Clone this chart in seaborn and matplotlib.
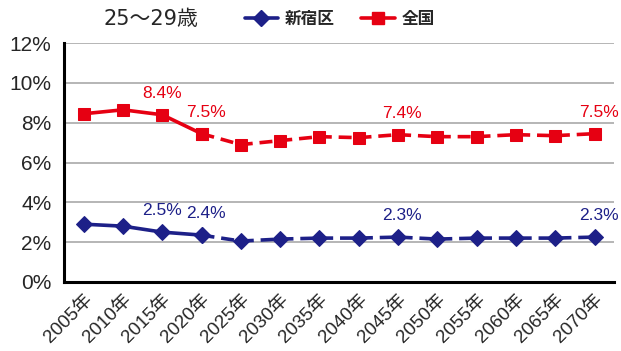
import matplotlib
matplotlib.use("Agg")
import matplotlib.pyplot as plt
from matplotlib.lines import Line2D
import seaborn as sns
import pandas as pd

years = ["2005年", "2010年", "2015年", "2020年", "2025年", "2030年", "2035年",
         "2040年", "2045年", "2050年", "2055年", "2060年", "2065年", "2070年"]
shinjuku = [2.9, 2.8, 2.5, 2.35, 2.05, 2.15, 2.2, 2.2, 2.25, 2.15, 2.2, 2.2, 2.2, 2.25]
national = [8.45, 8.65, 8.4, 7.45, 6.9, 7.1, 7.3, 7.25, 7.4, 7.3, 7.3, 7.4, 7.35, 7.45]
shinjuku_labels = {2: "2.5%", 3: "2.4%", 8: "2.3%", 13: "2.3%"}
national_labels = {2: "8.4%", 3: "7.5%", 8: "7.4%", 13: "7.5%"}
yticks = [0, 2, 4, 6, 8, 10, 12]
age_group = "25～29歳"

sns.set_theme(style="white")
FONTS = ["Liberation Sans", "Noto Sans CJK JP"]
plt.rcParams["font.family"] = FONTS

RED = "#E60012"
NAVY = "#1D2088"
split = 3  # observed up to 2020, projected afterwards

fig = plt.figure(figsize=(6.21, 3.51), dpi=100)
ax = fig.add_axes([0.103, 0.197, 0.886, 0.680])

idx = list(range(len(years)))
for vals, color, marker, ms in [(shinjuku, NAVY, "D", 8), (national, RED, "s", 8)]:
    obs = pd.DataFrame({"x": idx[:split + 1], "y": vals[:split + 1]})
    proj = pd.DataFrame({"x": idx[split:], "y": vals[split:]})
    sns.lineplot(data=proj, x="x", y="y", ax=ax, color=color, lw=2.6,
                 marker=marker, markersize=ms, markeredgecolor=color,
                 dashes=False, linestyle=(0, (3.6, 1.9)))
    sns.lineplot(data=obs, x="x", y="y", ax=ax, color=color, lw=2.6,
                 marker=marker, markersize=ms, markeredgecolor=color)

for labels, vals, color in [(shinjuku_labels, shinjuku, NAVY), (national_labels, national, RED)]:
    for i, txt in labels.items():
        dx = 0 if i == 2 else 3
        ax.annotate(txt, (i, vals[i]), xytext=(dx, 10), textcoords="offset points",
                    ha="center", va="bottom", color=color, fontsize=12.5)

ax.set_xlim(-0.5, len(years) - 0.5)
ax.set_ylim(0, 12)
ax.set_yticks(yticks)
ax.set_yticklabels([f"{v}%" for v in yticks], fontsize=15)
ax.set_xticks(idx)
ax.set_xticklabels(years, rotation=45, ha="right", rotation_mode="anchor", fontsize=13.5)
ax.set_xticks([i - 0.5 for i in range(len(years) + 1)], minor=True)
ax.tick_params(axis="x", which="major", length=0, pad=7)
ax.tick_params(axis="x", which="minor", length=6, width=2, color="black", direction="out")
ax.tick_params(axis="y", length=6, width=2, color="black", direction="out", pad=3)
ax.set_xlabel("")
ax.set_ylabel("")
for y in yticks[1:]:
    ax.axhline(y, color="#b0b0b0", lw=1.3, zorder=0)
for s in ["top", "right"]:
    ax.spines[s].set_visible(False)
for s in ["left", "bottom"]:
    ax.spines[s].set_color("black")
    ax.spines[s].set_linewidth(2.2)

handles = [Line2D([], [], color=NAVY, lw=2.6, marker="D", markersize=8),
           Line2D([], [], color=RED, lw=2.6, marker="s", markersize=8)]
fig.legend(handles, ["新宿区", "全国"], loc="center", bbox_to_anchor=(0.547, 0.945),
           ncol=2, frameon=False, handlelength=2.0, handletextpad=0.4, columnspacing=1.6,
           prop={"family": "Noto Sans CJK JP", "size": 12, "weight": "bold"})
fig.text(0.243, 0.945, age_group, ha="center", va="center", fontsize=15,
         family=["DejaVu Sans", "Noto Sans CJK JP"])

fig.savefig("out.png", dpi=100)
